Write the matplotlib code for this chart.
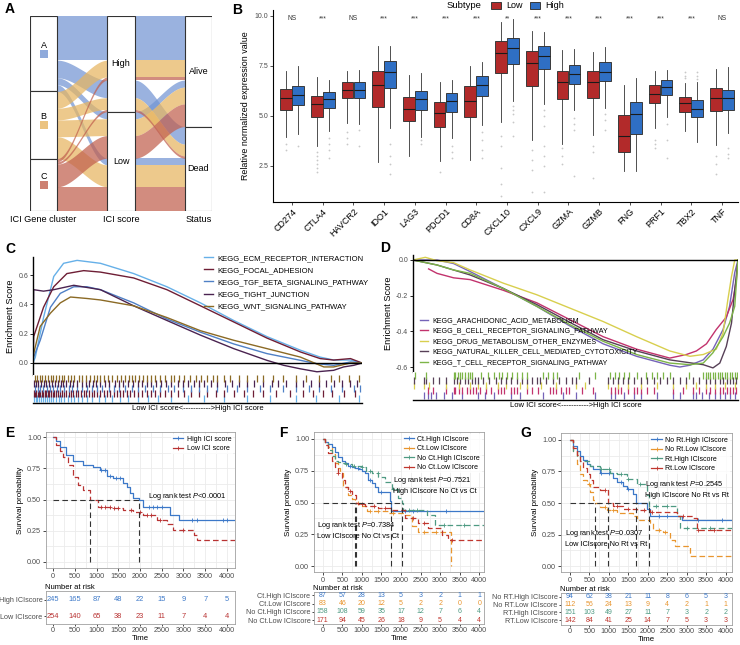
import numpy as np
import matplotlib.pyplot as plt
from matplotlib.lines import Line2D
from matplotlib.patches import Patch, Rectangle

plt.rcParams['font.family'] = ['Liberation Sans', 'DejaVu Sans']
plt.rcParams['mathtext.fontset'] = 'custom'
plt.rcParams['mathtext.rm'] = 'Liberation Sans'
plt.rcParams['mathtext.it'] = 'Liberation Sans:italic'

# ---------------- data ----------------
# A: alluvial, patients per cluster x ICI score x status
clusters = ['A', 'B', 'C']
scores = ['High', 'Low']
status = ['Alive', 'Dead']
flow_counts = np.array([[[113, 45], [18, 17]],
                        [[43, 30], [43, 56]],
                        [[8, 6], [58, 62]]])

# B: boxplots
genes = ['CD274', 'CTLA4', 'HAVCR2', 'IDO1', 'LAG3', 'PDCD1', 'CD8A', 'CXCL10',
         'CXCL9', 'GZMA', 'GZMB', 'FNG', 'PRF1', 'TBX2', 'TNF']
sig = ['NS', '***', 'NS', '***', '***', '***', '***', '**', '***', '***',
       '***', '***', '***', '***', 'NS']
low_q1 = [5.3, 4.93, 5.89, 5.44, 4.77, 4.43, 4.97, 7.15, 6.52, 5.83, 5.88, 3.2, 5.66, 5.22, 5.23]
low_med = [5.91, 5.58, 6.32, 6.54, 5.33, 5.13, 5.74, 8.15, 7.65, 6.7, 6.72, 3.99, 6.11, 5.66, 5.88]
low_q3 = [6.36, 6.0, 6.72, 7.27, 5.96, 5.7, 6.49, 8.77, 8.23, 7.27, 7.27, 5.05, 6.54, 5.94, 6.41]
low_lo = [3.96, 3.49, 4.63, 2.7, 3.0, 2.73, 2.78, 4.7, 3.8, 3.62, 4.04, 2.23, 4.38, 4.26, 3.57]
low_hi = [7.27, 6.95, 7.27, 8.48, 7.05, 6.69, 7.48, 9.7, 9.25, 8.31, 8.21, 6.57, 7.27, 6.66, 7.35]
low_out = [[3.6, 3.3], [3.2, 3.0, 2.8, 2.6, 2.4, 2.2], [4.2, 3.9, 3.6], [], [], [2.2], [],
           [4.0, 3.5, 2.4, 1.6, 1.0], [3.3, 2.8, 2.3, 1.2], [3.4, 3.0, 2.6], [3.5, 3.2, 1.9],
           [], [3.8, 3.6, 3.4], [7.2, 7.0, 6.9], [3.0, 2.6, 2.1]]
high_q1 = [5.54, 5.39, 5.89, 6.42, 5.32, 5.18, 6.0, 7.6, 7.35, 6.61, 6.77, 4.1, 6.04, 4.97, 5.3]
high_med = [6.03, 5.86, 6.32, 7.2, 5.83, 5.73, 6.56, 8.38, 7.98, 7.12, 7.2, 5.1, 6.46, 5.36, 5.91]
high_q3 = [6.52, 6.19, 6.72, 7.76, 6.27, 6.16, 6.99, 8.89, 8.48, 7.53, 7.68, 5.72, 6.79, 5.78, 6.32]
high_lo = [4.08, 4.26, 4.6, 4.4, 3.93, 3.88, 4.55, 5.75, 5.6, 5.3, 5.4, 2.23, 4.97, 3.7, 4.13]
high_hi = [7.48, 6.79, 7.32, 8.48, 7.14, 6.79, 7.68, 9.83, 9.19, 8.36, 8.44, 6.9, 7.32, 6.7, 7.45]
high_out = [[3.5], [3.9, 3.6, 3.3, 2.9], [4.3, 3.5], [3.6, 3.0, 2.6, 2.1], [3.8, 3.6],
            [3.5, 3.2, 2.9], [4.2, 3.8, 3.3, 2.9], [5.5, 5.3, 5.1, 4.7, 4.0],
            [5.3, 5.0, 4.5, 3.5, 3.0, 2.5, 1.2], [4.9, 4.6, 4.3, 2.0], [5.1, 4.8, 4.3],
            [], [4.6, 3.8, 2.9], [7.2, 7.0, 6.85], [3.4, 3.1, 2.9]]

# C: GSEA, enriched in low ICI score (rank x per mille)
c_sets = ['KEGG_ECM_RECEPTOR_INTERACTION', 'KEGG_FOCAL_ADHESION',
          'KEGG_TGF_BETA_SIGNALING_PATHWAY', 'KEGG_TIGHT_JUNCTION',
          'KEGG_WNT_SIGNALING_PATHWAY']
c_rank = [[0, 7, 32, 63, 93, 134, 205, 306, 407, 509, 610, 711, 813, 873, 914, 965, 1000],
          [0, 2, 32, 63, 103, 154, 205, 306, 407, 509, 610, 711, 813, 873, 914, 965, 1000],
          [0, 2, 22, 53, 83, 124, 164, 205, 306, 407, 509, 610, 711, 813, 863, 914, 965, 1000],
          [0, 2, 32, 63, 124, 205, 306, 407, 509, 610, 711, 762, 813, 863, 914, 944, 975, 1000],
          [0, 2, 22, 53, 83, 114, 164, 205, 306, 407, 509, 610, 711, 813, 884, 914, 965, 1000]]
c_es = [[0, 0.04, 0.31, 0.59, 0.68, 0.70, 0.68, 0.61, 0.52, 0.41, 0.29, 0.18, 0.087, 0.04, 0.02, 0.02, 0],
        [0, 0.18, 0.38, 0.52, 0.61, 0.63, 0.62, 0.58, 0.50, 0.39, 0.28, 0.17, 0.075, 0.03, 0.02, 0.03, 0],
        [0, 0.04, 0.155, 0.38, 0.475, 0.52, 0.52, 0.50, 0.41, 0.30, 0.21, 0.13, 0.064, 0.018, -0.005, -0.016, 0.007, 0],
        [0, 0.50, 0.49, 0.50, 0.53, 0.50, 0.39, 0.29, 0.19, 0.098, 0.018, -0.016, -0.04, -0.06, -0.05, -0.027, -0.016, 0],
        [0, 0.064, 0.25, 0.34, 0.41, 0.45, 0.44, 0.43, 0.39, 0.31, 0.22, 0.155, 0.098, 0.04, -0.027, -0.027, 0, 0]]
c_hits = [[3, 8, 13, 18, 24, 30, 36, 42, 48, 55, 62, 70, 78, 86, 95, 105, 115, 125, 138, 150, 165, 180,
           200, 220, 240, 265, 290, 320, 350, 380, 420, 470, 520, 580, 650, 720, 800, 860, 930, 990],
          [2, 6, 10, 14, 18, 22, 26, 30, 35, 40, 45, 50, 55, 60, 65, 70, 76, 82, 88, 95, 100, 108, 115,
           122, 130, 138, 146, 155, 162, 170, 178, 186, 195, 205, 215, 225, 235, 245, 255, 265, 275,
           285, 296, 308, 320, 332, 345, 358, 370, 385, 400, 420, 440, 460, 480, 505, 530, 555, 580,
           610, 640, 670, 700, 740, 780, 820, 850, 880, 910, 945, 980],
          [6, 14, 22, 30, 42, 52, 60, 72, 82, 95, 110, 120, 135, 150, 165, 180, 195, 210, 230, 245, 260,
           280, 300, 320, 340, 365, 385, 410, 430, 455, 480, 505, 530, 560, 590, 620, 650, 690, 720,
           760, 800, 840, 870, 905, 940, 975, 995],
          [3, 8, 15, 25, 32, 40, 48, 58, 66, 75, 84, 92, 100, 112, 122, 135, 148, 160, 170, 182, 192,
           205, 220, 232, 248, 262, 275, 290, 305, 318, 330, 345, 360, 375, 390, 405, 420, 440, 455,
           470, 490, 505, 520, 540, 560, 585, 605, 625, 650, 672, 700, 725, 745, 770, 800, 820, 845,
           870, 890, 915, 940, 965, 985],
          [5, 12, 20, 28, 35, 45, 55, 62, 70, 80, 88, 95, 105, 115, 125, 140, 150, 160, 172, 185, 195,
           205, 215, 228, 240, 255, 268, 280, 292, 300, 310, 322, 335, 345, 360, 372, 385, 400, 418,
           430, 445, 460, 478, 495, 510, 530, 548, 560, 580, 600, 625, 650, 680, 700, 730, 760, 800,
           830, 870, 905, 930, 960, 990]]

# D: GSEA, enriched in high ICI score
d_sets = ['KEGG_ARACHIDONIC_ACID_METABOLISM', 'KEGG_B_CELL_RECEPTOR_SIGNALING_PATHWAY',
          'KEGG_DRUG_METABOLISM_OTHER_ENZYMES', 'KEGG_NATURAL_KILLER_CELL_MEDIATED_CYTOTOXICITY',
          'KEGG_T_CELL_RECEPTOR_SIGNALING_PATHWAY']
d_rank = [[0, 74, 125, 176, 278, 381, 483, 585, 688, 790, 821, 852, 893, 923, 954, 974, 990, 1000],
          [48, 74, 125, 176, 278, 381, 483, 585, 688, 790, 841, 872, 903, 933, 964, 985, 995, 1000],
          [0, 38, 74, 125, 176, 278, 381, 483, 585, 688, 790, 852, 893, 933, 954, 969, 980, 990, 1000],
          [0, 74, 176, 278, 381, 483, 585, 688, 790, 893, 923, 944, 964, 980, 990, 1000],
          [0, 74, 125, 176, 278, 381, 483, 585, 688, 790, 852, 893, 923, 954, 974, 990, 1000]]
d_es = [[0, 0, -0.02, -0.065, -0.16, -0.26, -0.37, -0.47, -0.54, -0.59, -0.60, -0.59, -0.56, -0.5, -0.39, -0.26, -0.07, 0],
        [-0.05, -0.075, -0.10, -0.11, -0.17, -0.24, -0.335, -0.43, -0.5, -0.55, -0.53, -0.51, -0.47, -0.39, -0.32, -0.22, -0.11, 0],
        [0, 0.015, -0.004, -0.015, -0.056, -0.13, -0.195, -0.27, -0.345, -0.43, -0.51, -0.54, -0.53, -0.5, -0.41, -0.22, -0.093, 0, 0],
        [0, -0.028, -0.084, -0.16, -0.25, -0.35, -0.447, -0.51, -0.56, -0.587, -0.605, -0.578, -0.485, -0.354, -0.168, 0],
        [0, -0.028, -0.056, -0.075, -0.16, -0.26, -0.363, -0.456, -0.53, -0.578, -0.587, -0.578, -0.52, -0.43, -0.354, -0.26, 0]]
d_hits = [[35, 45, 55, 70, 95, 120, 150, 200, 220, 250, 300, 330, 400, 460, 500, 560, 610, 620, 650,
           680, 700, 750, 800, 820, 860, 870, 890, 910, 930, 945, 960, 975, 990],
          [45, 60, 100, 125, 130, 140, 150, 165, 175, 185, 195, 205, 225, 240, 260, 270, 280, 300, 310,
           320, 350, 365, 385, 420, 430, 440, 455, 470, 480, 520, 555, 610, 620, 630, 640, 660, 680,
           690, 700, 720, 740, 800, 830, 860, 880, 900, 915, 930, 945, 955, 965, 975, 985, 995],
          [3, 35, 50, 100, 140, 175, 200, 225, 260, 285, 330, 350, 395, 440, 500, 530, 600, 630, 660,
           700, 750, 800, 840, 870, 900, 930, 960, 990],
          [2, 35, 40, 60, 80, 100, 125, 135, 145, 160, 170, 180, 190, 200, 215, 235, 255, 270, 285, 300,
           320, 335, 350, 365, 380, 390, 410, 430, 450, 470, 490, 500, 540, 600, 615, 630, 645, 660,
           680, 700, 720, 740, 760, 780, 800, 820, 840, 860, 880, 900, 915, 930, 945, 955, 965, 975,
           985, 995],
          [5, 40, 125, 130, 138, 145, 152, 160, 168, 175, 182, 210, 230, 248, 265, 275, 290, 305, 320,
           335, 350, 400, 415, 430, 442, 510, 560, 606, 620, 635, 650, 665, 688, 718, 735, 750, 770,
           790, 850, 892, 900, 908, 915, 922, 930, 938, 945, 952, 960, 967, 975, 982, 990, 997]]

# E/F/G: Kaplan-Meier curves (time, survival) + censoring times
risk_times = [0, 500, 1000, 1500, 2000, 2500, 3000, 3500, 4000]

e_labels = ['High ICI score', 'Low ICI score']
e_table = ['High ICIscore', 'Low ICIscore']
e_t = [[0, 60, 154, 308, 462, 692, 923, 1077, 1231, 1385, 1615, 1692, 1769, 1846, 1985, 2077, 2692, 2908, 4180],
       [0, 77, 154, 231, 346, 462, 577, 692, 862, 1038, 1308, 1615, 1846, 2077, 2385, 2615, 2769, 3231, 3308, 4180]]
e_s = [[1.0, 0.97, 0.92, 0.857, 0.81, 0.777, 0.763, 0.737, 0.688, 0.67, 0.63, 0.60, 0.55, 0.51, 0.496, 0.437, 0.375, 0.335, 0.335],
       [1.0, 0.94, 0.89, 0.84, 0.777, 0.683, 0.616, 0.576, 0.497, 0.44, 0.43, 0.415, 0.40, 0.375, 0.335, 0.308, 0.254, 0.214, 0.174, 0.174]]
e_cens = [[1100, 1200, 1300, 1450, 1550, 2200, 2300, 2400, 2500, 3200, 3300, 3900, 4000],
          [1100, 1200, 1300, 1400, 1500, 1800, 2000, 2150, 2250, 2450, 3000]]
e_risk = [[245, 165, 87, 48, 22, 15, 9, 7, 5],
          [254, 140, 65, 38, 23, 11, 7, 4, 4]]

f_labels = ['Ct.High ICIscore', 'Ct.Low ICIscore', 'No Ct.High ICIscore', 'No Ct.Low ICIscore']
f_t = [[0, 60, 145, 230, 315, 400, 485, 570, 655, 740, 825, 910, 1000, 1080, 1166, 1250, 1336, 1421, 1719, 1736, 4120],
       [0, 60, 145, 230, 315, 380, 443, 528, 655, 740, 826, 996, 1123, 1676, 2102, 2272, 2443, 3268],
       [0, 60, 145, 230, 315, 400, 485, 600, 740, 996, 1100, 1251, 1421, 1591, 1762, 1932, 2017, 2060, 2655, 2868, 4120],
       [0, 60, 145, 230, 315, 400, 485, 570, 655, 740, 850, 910, 1080, 1421, 1762, 2102, 2443, 2698, 3038, 3208, 4120]]
f_s = [[1, 0.98, 0.96, 0.94, 0.90, 0.86, 0.83, 0.81, 0.79, 0.78, 0.77, 0.76, 0.745, 0.73, 0.68, 0.65, 0.625, 0.586, 0.51, 0.43, 0.43],
       [1, 0.98, 0.94, 0.88, 0.81, 0.77, 0.73, 0.625, 0.56, 0.53, 0.495, 0.47, 0.43, 0.417, 0.40, 0.3125, 0.27, 0.0],
       [1, 0.97, 0.91, 0.87, 0.83, 0.82, 0.81, 0.80, 0.79, 0.776, 0.75, 0.73, 0.70, 0.66, 0.61, 0.534, 0.497, 0.44, 0.40, 0.325, 0.325],
       [1, 0.95, 0.89, 0.83, 0.78, 0.73, 0.68, 0.625, 0.59, 0.56, 0.498, 0.49, 0.47, 0.455, 0.443, 0.378, 0.34, 0.30, 0.247, 0.208, 0.208]]
f_cens = [[700, 900, 1200, 1500, 2100, 2300, 3150],
          [900, 1200, 1400, 1800, 2600, 2900],
          [600, 800, 1000, 1200, 1400, 1800, 2200, 2400, 3100, 3600],
          [400, 700, 1000, 1300, 1600, 2300, 2600, 3300]]
f_risk = [[87, 57, 28, 13, 5, 3, 2, 1, 1],
          [83, 46, 20, 12, 5, 2, 2, 0, 0],
          [158, 108, 59, 35, 17, 12, 7, 6, 4],
          [171, 94, 45, 26, 18, 9, 5, 4, 4]]

g_labels = ['No Rt.High ICIscore', 'No Rt.Low ICIscore', 'Rt.High ICIscore', 'Rt.Low ICIscore']
g_table = ['No RT.High ICIscore', 'No RT.Low ICIscore', 'RT.High ICIscore', 'RT.Low ICIscore']
g_t = [[0, 86, 171, 257, 343, 428, 514, 600, 771, 942, 1113, 1199, 1370, 1456, 1627, 1687, 1970, 2056, 2869, 4165],
       [0, 86, 171, 257, 343, 428, 514, 600, 642, 771, 942, 1199, 1627, 1713, 2056, 2141, 2398, 2570, 2698, 3083, 4165],
       [0, 86, 171, 257, 514, 771, 1028, 1199, 1456, 1713, 1970, 2038, 2741, 2826, 4165],
       [0, 86, 171, 257, 343, 428, 514, 600, 771, 968, 1113, 1370, 1713, 2056, 2741, 3169, 3255, 4165]]
g_s = [[1, 0.95, 0.91, 0.87, 0.84, 0.81, 0.79, 0.77, 0.74, 0.734, 0.70, 0.664, 0.638, 0.61, 0.573, 0.497, 0.456, 0.40, 0.365, 0.365],
       [1, 0.91, 0.81, 0.73, 0.68, 0.65, 0.586, 0.52, 0.497, 0.47, 0.443, 0.417, 0.40, 0.365, 0.34, 0.286, 0.273, 0.208, 0.156, 0.078, 0.078],
       [1, 0.91, 0.87, 0.83, 0.79, 0.77, 0.74, 0.73, 0.69, 0.65, 0.56, 0.48, 0.40, 0.30, 0.30],
       [1, 0.94, 0.88, 0.83, 0.78, 0.73, 0.68, 0.625, 0.60, 0.497, 0.48, 0.456, 0.443, 0.43, 0.40, 0.378, 0.286, 0.286]]
g_cens = [[800, 1000, 1300, 1500, 2300, 2500, 3300, 3900],
          [500, 900, 1100, 2300, 2450],
          [800, 1000, 1300, 1500, 1800, 2200, 2500, 3000, 3600],
          [900, 1200, 1500, 1900, 2100, 2900, 3300, 3700]]
g_risk = [[94, 62, 38, 21, 11, 8, 6, 5, 3],
          [112, 56, 24, 13, 9, 4, 2, 1, 1],
          [151, 103, 49, 27, 11, 7, 3, 2, 2],
          [142, 84, 41, 25, 14, 7, 5, 3, 3]]

# ---------------- figure ----------------
W, H = 740, 645
fig = plt.figure(figsize=(W / 100, H / 100), dpi=100)


def pax(x0, y0, x1, y1):
    return fig.add_axes([x0 / W, 1 - y1 / H, (x1 - x0) / W, (y1 - y0) / H])


def ptext(x, y, s, **kw):
    fig.text(x / W, 1 - y / H, s, **kw)


for lab, x, y in [('A', 5, 9), ('B', 232, 10), ('C', 5, 249), ('D', 380, 248),
                  ('E', 5, 433), ('F', 279, 433), ('G', 520, 433)]:
    ptext(x, y, lab, fontsize=10, fontweight='bold', va='center')

# ---- A: alluvial ----
axA = pax(30, 16, 212, 211)
w = 0.175
ncl = [(i, j, k) for i in range(3) for j in range(2) for k in range(2)]


def stack(key):
    tops, y = {}, 0
    for c in sorted(ncl, key=key):
        tops[c] = y
        y += flow_counts[c]
    return tops


tops = [stack(lambda c: (c[0], c[1], c[2])),
        stack(lambda c: (c[1], c[2], c[0])),
        stack(lambda c: (c[2], c[1], c[0]))]
fill_cols = ['#7395D3', '#E7B560', '#C1604E']
for c in ncl:
    n = flow_counts[c]
    for a in range(2):
        xs = np.linspace(a + 1 + w, a + 2 - w, 60)
        s = (xs - xs[0]) / (xs[-1] - xs[0])
        sm = s * s * (3 - 2 * s)
        y0, y1 = tops[a][c], tops[a + 1][c]
        top = y0 + (y1 - y0) * sm
        axA.fill_between(xs, top, top + n, color=fill_cols[c[0]], alpha=0.72, lw=0)

strata = [(clusters, flow_counts.sum(axis=(1, 2))),
          (scores, flow_counts.sum(axis=(0, 2))),
          (status, flow_counts.sum(axis=(0, 1)))]
for a, (names, sizes) in enumerate(strata):
    y = 0
    for idx, (nm, sz) in enumerate(zip(names, sizes)):
        axA.add_patch(Rectangle((a + 1 - w, y), 2 * w, sz, facecolor='white',
                                edgecolor='#333333', lw=0.8, zorder=3))
        mid = y + sz / 2
        if a == 0:
            axA.text(a + 1, mid - 22, nm, ha='center', va='center', fontsize=6.5, zorder=4)
            axA.scatter([a + 1], [mid], marker='s', s=26, color=fill_cols[idx], alpha=0.8,
                        zorder=4, lw=0)
        else:
            axA.text(a + 1, mid, nm, ha='center', va='center', fontsize=6.5, zorder=4)
        y += sz
axA.set_xlim(1 - w, 3 + w)
axA.set_ylim(flow_counts.sum(), 0)
axA.set_xticks([1, 2, 3])
axA.set_xticklabels(['ICI Gene cluster', 'ICI score', 'Status'], fontsize=6.6)
axA.tick_params(length=0, pad=3)
axA.set_yticks([])
for sp in axA.spines.values():
    sp.set_visible(False)

# ---- B: boxplots ----
axB = pax(273, 10, 738, 202)
pos = np.arange(1, len(genes) + 1)
low_stats = [dict(med=m, q1=a, q3=b, whislo=lo, whishi=hi, fliers=f)
             for m, a, b, lo, hi, f in zip(low_med, low_q1, low_q3, low_lo, low_hi, low_out)]
high_stats = [dict(med=m, q1=a, q3=b, whislo=lo, whishi=hi, fliers=f)
              for m, a, b, lo, hi, f in zip(high_med, high_q1, high_q3, high_lo, high_hi, high_out)]
for stats, off, col in [(low_stats, -0.195, '#B22A2A'), (high_stats, 0.195, '#2F6FC4')]:
    axB.bxp(stats, positions=pos + off, widths=0.38, patch_artist=True, showcaps=False,
            boxprops=dict(facecolor=col, edgecolor='#3a3a3a', lw=0.7),
            medianprops=dict(color='#1a1a1a', lw=0.8),
            whiskerprops=dict(color='#333333', lw=0.6),
            flierprops=dict(marker='o', ms=1.3, mfc='#c8c8c8', mec='none'))
for p, s in zip(pos, sig):
    axB.text(p, 9.85, s, ha='center', va='center', fontsize=4.8, color='#333333')
axB.set_xlim(0.38, 15.52)
axB.set_ylim(0.7, 10.3)
axB.set_xticks(pos)
axB.set_xticklabels(genes, rotation=45, ha='right', rotation_mode='anchor', fontsize=6.5)
axB.set_yticks([2.5, 5.0, 7.5, 10.0])
axB.set_yticklabels(['2.5', '5.0', '7.5', '10.0'], fontsize=5, color='#4D4D4D')
axB.tick_params(length=2, width=0.6, color='#333333', pad=1.5)
axB.set_ylabel('Relative normalized expression value', fontsize=6.4, labelpad=3)
for sp in ['top', 'right']:
    axB.spines[sp].set_visible(False)
for sp in ['left', 'bottom']:
    axB.spines[sp].set_linewidth(0.8)
ptext(447, 6, 'Subtype', fontsize=6.8, va='center')
fig.legend([Patch(facecolor='#B22A2A', edgecolor='#3a3a3a', lw=0.7),
            Patch(facecolor='#2F6FC4', edgecolor='#3a3a3a', lw=0.7)], ['Low', 'High'],
           ncol=2, loc='center left', bbox_to_anchor=(486 / W, 1 - 6 / H), frameon=False,
           fontsize=6.5, handlelength=1.2, handleheight=0.9, handletextpad=0.5,
           columnspacing=0.8, borderpad=0)


# ---- C / D: GSEA ----
def gsea(x0, x1, y0, ymid, y1, rank, es, hits, cols, names, ylim, yticks, ylabs,
         leg_xy, leg_fs, leg_sp):
    ax = pax(x0, y0, x1, ymid)
    for r, e, c in zip(rank, es, cols):
        ax.plot(np.array(r) / 1000, e, color=c, lw=1.0)
    ax.axhline(0, color='black', lw=1.0)
    ax.set_xlim(0, 1)
    ax.set_ylim(*ylim)
    ax.set_xticks([])
    ax.set_yticks(yticks)
    ax.set_yticklabels(ylabs, fontsize=5, color='#4D4D4D')
    ax.tick_params(length=2, width=0.6, pad=1.5)
    for sp in ['top', 'right', 'bottom']:
        ax.spines[sp].set_visible(False)
    ax.spines['left'].set_linewidth(1.0)
    ax.set_ylabel('Enrichment Score', fontsize=6.7, labelpad=2)
    handles = [Line2D([], [], color=c, lw=1.0) for c in cols]
    ax.legend(handles, names, loc='upper left', bbox_to_anchor=leg_xy, frameon=False,
              fontsize=leg_fs, handlelength=1.2, handletextpad=0.6, labelspacing=leg_sp,
              borderpad=0, borderaxespad=0)
    axr = pax(x0, ymid, x1, y1)
    n = len(hits)
    for row, (h, c) in enumerate(zip(hits, cols)):
        axr.vlines(np.array(h) / 1000, row * 0.8, row * 0.8 + 1.1, color=c, lw=0.9)
    axr.set_xlim(0, 1)
    axr.set_ylim(-0.1, n * 0.8 + 0.35)
    axr.set_xticks([])
    axr.set_yticks([])
    for sp in ['top', 'right', 'left']:
        axr.spines[sp].set_visible(False)
    axr.spines['bottom'].set_linewidth(1.0)
    axr.set_xlabel('Low ICI score<----------->High ICI score', fontsize=5.5, labelpad=1.5)
    return ax


c_cols = ['#66B0E8', '#6E1E35', '#4F80C6', '#4A2350', '#8B6A25']
gsea(33, 362, 257, 375, 403, c_rank, c_es, c_hits, c_cols, c_sets, (-0.082, 0.723),
     [0.0, 0.2, 0.4, 0.6], ['0.0', '0.2', '0.4', '0.6'], (0.52, 1.02), 5.5, 0.62)
d_cols = ['#7563B8', '#C2336D', '#D8CF4E', '#574057', '#7DB548']
gsea(413, 738, 255, 372, 400, d_rank, d_es, d_hits, d_cols, d_sets, (-0.628, 0.028),
     [0.0, -0.2, -0.4, -0.6], ['0.0', '-0.2', '-0.4', '-0.6'], (0.02, 0.47), 5.1, 0.5)


# ---- E / F / G: Kaplan-Meier ----
def km(x0, x1, y0, y1, ty0, ty1, xlim, ylim, tylim, times, survs, cens, cols, labels,
       tlabels, risk, fs, lfs, texts):
    ax = pax(x0, y0, x1, y1)
    meds = []
    for i, (t, s, c, ce) in enumerate(zip(times, survs, cols, cens)):
        ls = '-' if i == 0 else (0, (4.5, 2.5))
        ax.step(t, s, where='post', color=c, lw=0.9, ls=ls)
        t, s = np.array(t), np.array(s)
        ci = np.searchsorted(t, ce, side='right') - 1
        ax.plot(ce, s[ci], '+', color=c, ms=3, mew=0.6, ls='none')
        meds.append(t[np.argmax(s <= 0.5)])
    ax.hlines(0.5, 0, max(meds), color='#333333', lw=0.8, ls=(0, (5, 3)))
    ax.vlines(meds, 0, 0.5, color='#333333', lw=0.8, ls=(0, (5, 3)))
    ax.set_xlim(*xlim)
    ax.set_ylim(*ylim)
    ax.set_xticks(risk_times)
    ax.set_xticks(np.arange(250, 4001, 500), minor=True)
    ax.set_yticks([0, 0.25, 0.5, 0.75, 1.0])
    ax.set_yticks([0.125, 0.375, 0.625, 0.875], minor=True)
    ax.set_yticklabels(['0.00', '0.25', '0.50', '0.75', '1.00'])
    ax.grid(which='both', color='#EBEBEB', lw=0.6)
    ax.set_axisbelow(True)
    ax.tick_params(which='minor', length=0)
    ax.tick_params(which='major', labelsize=5.2, labelcolor='#4D4D4D', length=2, width=0.5, pad=1.5)
    for sp in ax.spines.values():
        sp.set_color('#A0A0A0')
        sp.set_linewidth(0.6)
    ax.set_ylabel('Survival probability', fontsize=5.8, labelpad=2)
    for tx, ty, s in texts:
        ax.text(tx, ty, s, fontsize=5.3, va='center', ha='left', linespacing=1.4)
    handles = [Line2D([], [], color=c, lw=0.9, marker='+', ms=3, mew=0.6) for c in cols]
    lg = ax.legend(handles, labels, loc='upper right', fontsize=5.0, frameon=True,
                   handlelength=1.5, handletextpad=0.5, labelspacing=0.35, borderpad=0.25,
                   borderaxespad=0.3, fancybox=False)
    lg.get_frame().set_edgecolor('none')
    # risk table
    axt = pax(x0, ty0, x1, ty1)
    n = len(risk)
    for r, (vals, c) in enumerate(zip(risk, cols)):
        for x, v in zip(risk_times, vals):
            axt.text(x, n - 1 - r, str(v), color=c, ha='center', va='center', fontsize=fs)
    axt.set_xlim(*xlim)
    axt.set_ylim(*tylim)
    axt.set_yticks(np.arange(n)[::-1])
    axt.set_yticklabels(tlabels, fontsize=lfs)
    for lab, c in zip(axt.get_yticklabels(), cols):
        lab.set_color(c)
    axt.set_xticks(risk_times)
    axt.tick_params(labelsize=5.2, labelcolor='#4D4D4D', length=1.5, width=0.5, pad=1.0)
    for sp in axt.spines.values():
        sp.set_color('#A0A0A0')
        sp.set_linewidth(0.6)
    axt.set_xlabel('Time', fontsize=5.6, labelpad=0.5)
    axt.set_title('Number at risk', fontsize=5.5, loc='left', pad=1.5, x=-0.005)
    return ax


km_cols2 = ['#3C78C8', '#B83232']
km_cols4 = ['#3C78C8', '#E8952E', '#4E9A82', '#C0362E']

km(46, 235, 432, 568, 591, 624, (-161, 4184), (-0.048, 1.04), (-0.45, 1.52),
   e_t, e_s, e_cens, km_cols2, e_labels, e_table, e_risk, 5.4, 4.5,
   [(2180, 0.52, 'Log rank test $\\it{P}$<0.0001')])
km(314, 484, 432, 572, 592, 624, (-222, 4120), (-0.047, 1.055), (-0.46, 3.38),
   f_t, f_s, f_cens, km_cols4, f_labels, f_labels, f_risk, 5.0, 5.0,
   [(1796, 0.64, 'Log rank test $\\it{P}$=0.7521\nHigh ICIscore No Ct vs Ct'),
    (-146, 0.28, 'Log rank test $\\it{P}$=0.7384\nLow ICIscore No Ct vs Ct')])
km(561, 732, 433, 572, 593, 625, (-231, 4165), (-0.047, 1.055), (-0.58, 3.45),
   g_t, g_s, g_cens, km_cols4, g_labels, g_table, g_risk, 5.0, 5.0,
   [(1928, 0.61, 'Log rank test $\\it{P}$=0.2545\nHigh ICIscore No Rt vs Rt'),
    (-128, 0.22, 'Log rank test $\\it{P}$=0.0307\nLow ICIscore No Rt vs Rt')])

fig.savefig('out.png', dpi=100)
